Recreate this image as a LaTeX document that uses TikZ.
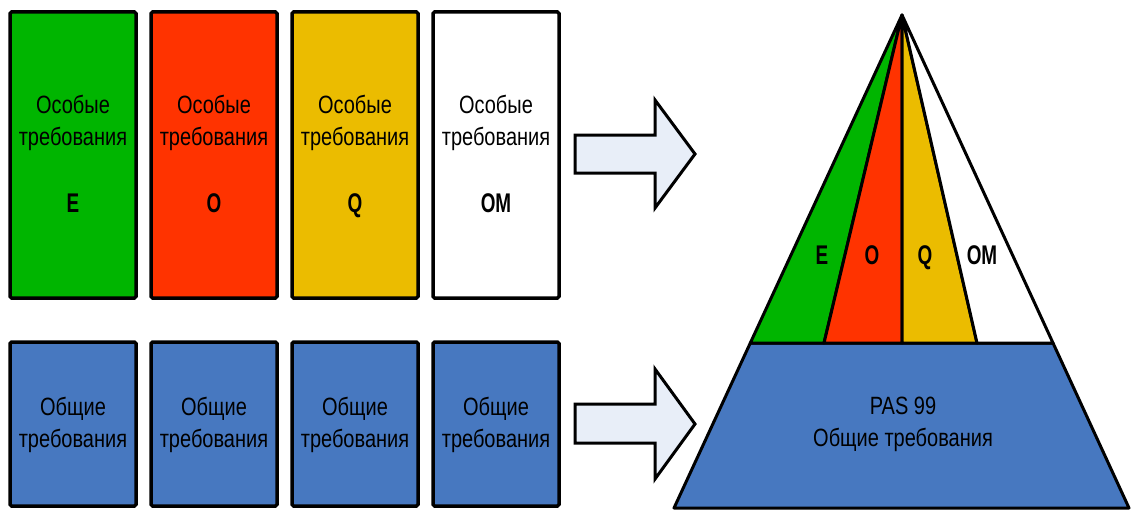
\documentclass[tikz,border=0pt]{standalone}
\usepackage{fontspec}
\newfontfamily\nar{Liberation Sans}[FakeStretch=0.8]
\newfontfamily\narb{Liberation Sans Bold}[FakeStretch=0.7]
\definecolor{cgreen}{RGB}{0,181,0}
\definecolor{cred}{RGB}{255,51,0}
\definecolor{cyellow}{RGB}{235,188,0}
\definecolor{cblue}{RGB}{71,120,192}
\definecolor{carrow}{RGB}{232,238,248}
\tikzset{
  reqbox/.style={draw=black, line width=3.5pt, rounded corners=1.5pt, minimum width=126pt, inner sep=0pt},
  topbox/.style={reqbox, minimum height=286pt},
  botbox/.style={reqbox, minimum height=164pt, fill=cblue},
  txt/.style={align=center, inner sep=0pt, font=\nar\fontsize{25}{32}\selectfont},
  lbl/.style={inner sep=0pt, font=\narb\fontsize{27}{30}\selectfont},
  piece/.style={draw=black, line width=3pt, line join=round},
  bigarrow/.style={draw=black, line width=3pt, fill=carrow, line join=miter}
}
\begin{document}
\begin{tikzpicture}[x=1pt,y=-1pt]
\useasboundingbox (0,0) rectangle (1131,511);
% top boxes
\node[topbox, fill=cgreen] (b1) at (73,155) {};
\node[topbox, fill=cred] (b2) at (214,155) {};
\node[topbox, fill=cyellow] (b3) at (355,155) {};
\node[topbox, fill=white] (b4) at (496,155) {};
\foreach \n/\x/\l in {1/73/E,2/214/O,3/355/Q,4/496/OM}{
  \node[txt] (t\n) at (\x,123) {Особые\\требования};
  \node[lbl, anchor=base] (l\n) at (\x,212) {\l};
}
% bottom boxes
\node[botbox] (c1) at (73,424) {};
\node[botbox] (c2) at (214,424) {};
\node[botbox] (c3) at (355,424) {};
\node[botbox] (c4) at (496,424) {};
\foreach \n/\x in {1/73,2/214,3/355,4/496}{
  \node[txt] (u\n) at (\x,425) {Общие\\требования};
}
% arrows
\draw[bigarrow] (575,135) -- (655,135) -- (655,100) -- (695,154) -- (655,208) -- (655,173) -- (575,173) -- cycle;
\draw[bigarrow] (575,404) -- (655,404) -- (655,369) -- (695,424) -- (655,479) -- (655,443) -- (575,443) -- cycle;
% pyramid
\coordinate (A) at (902,15);
\coordinate (L) at (750.3,343);
\coordinate (P1) at (824,343);
\coordinate (P2) at (902,343);
\coordinate (P3) at (977,343);
\coordinate (R) at (1053,343);
\coordinate (BL) at (674,508);
\coordinate (BR) at (1129,508);
\draw[piece, fill=cblue] (L) -- (R) -- (BR) -- (BL) -- cycle;
\draw[piece, fill=cgreen] (A) -- (L) -- (P1) -- cycle;
\draw[piece, fill=cred] (A) -- (P1) -- (P2) -- cycle;
\draw[piece, fill=cyellow] (A) -- (P2) -- (P3) -- cycle;
\draw[piece, fill=white] (A) -- (P3) -- (R) -- cycle;
\node[lbl, anchor=base] (pe) at (822,264) {E};
\node[lbl, anchor=base] (po) at (872,264) {O};
\node[lbl, anchor=base] (pq) at (925,264) {Q};
\node[lbl, anchor=base] (pm) at (982,264) {OM};
\node[txt] (pas) at (903,424) {PAS 99\\Общие требования};
\end{tikzpicture}
\end{document}
